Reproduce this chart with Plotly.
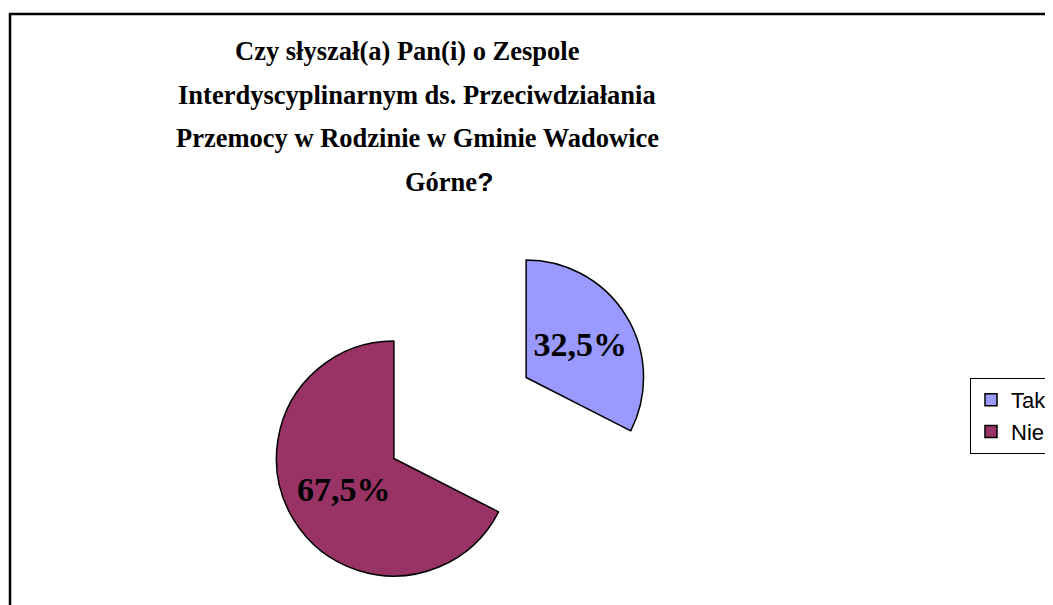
import plotly.graph_objects as go

# ---- data ----
labels = ["Tak", "Nie"]
values = [32.5, 67.5]
colors = ["#9999FF", "#993366"]
title_lines = [
    "Czy słyszał(a) Pan(i) o Zespole",
    "Interdyscyplinarnym ds. Przeciwdziałania",
    "Przemocy w Rodzinie w Gminie Wadowice",
    "Górne<span style='font-family:Liberation Sans, Arial'>?</span>",
]

W, H = 1053, 605

# ---- pie geometry (layout only) ----
pull = 0.66
cy_px = 195.0          # pie centre, px from bottom of figure
cx_px = 452.0          # pie centre, px from left of figure
half_w = 0.25

fig = go.Figure()
fig.add_trace(go.Pie(
    labels=labels,
    values=values,
    sort=False,
    direction="clockwise",
    rotation=0,
    pull=[pull, pull],
    marker=dict(colors=colors, line=dict(color="black", width=1.5)),
    texttemplate="%{value:.1f}%",
    textposition="inside",
    insidetextorientation="horizontal",
    textfont=dict(family="Liberation Serif, Times New Roman, serif", size=34, color="black", weight="bold"),
    hoverinfo="label+percent",
    domain=dict(x=[cx_px / W - half_w, cx_px / W + half_w], y=[0, 2 * cy_px / H]),
))

# title lines
line_x = [399, 409, 409, 441]
line_y = [43, 87, 130, 174]
for txt, lx, ly in zip(title_lines, line_x, line_y):
    fig.add_annotation(
        text=txt, x=lx / W, y=1 - ly / H, xref="paper", yref="paper",
        xanchor="center", yanchor="middle", showarrow=False,
        font=dict(family="Liberation Serif, Times New Roman, serif", size=26.5, color="black", weight="bold"),
    )

# chart-area border (extends beyond visible area, like the cropped original)
fig.add_shape(type="rect", xref="paper", yref="paper",
              x0=2 / W, x1=1.1, y0=-0.1, y1=1 - 6 / H,
              line=dict(color="black", width=2.5), fillcolor="rgba(0,0,0,0)")

fig.update_layout(
    width=W, height=H,
    margin=dict(l=0, r=0, t=0, b=0),
    paper_bgcolor="white",
    plot_bgcolor="white",
    separators=",.",
    showlegend=True,
    legend=dict(
        x=962 / W, y=1 - 370 / H, xanchor="left", yanchor="top",
        bgcolor="white", bordercolor="black", borderwidth=1,
        font=dict(family="Liberation Sans, Arial, sans-serif", size=22, color="black"),
        itemwidth=30,
        entrywidth=120,
    ),
)

fig.write_html("out.html")
